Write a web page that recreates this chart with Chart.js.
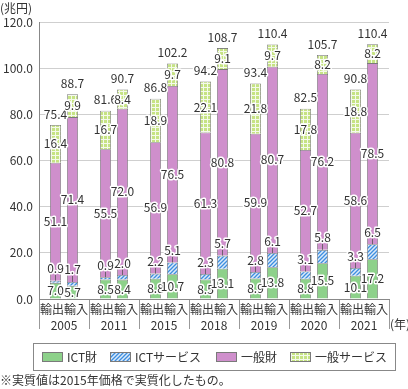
<!DOCTYPE html>
<html>
<head>
<meta charset="utf-8">
<script src="https://cdn.jsdelivr.net/npm/chart.js@4.4.1/dist/chart.umd.min.js"></script>
<style>
  html, body { margin: 0; padding: 0; background: #fff; }
  #wrap { position: relative; width: 408px; height: 389px; }
</style>
</head>
<body>
<div id="wrap"><canvas id="chart" width="408" height="389"></canvas></div>
<script>
// Data (兆円)
const years = ['2005', '2011', '2015', '2018', '2019', '2020', '2021'];
const seriesNames = ['ICT財', 'ICTサービス', '一般財', '一般サービス'];

const exportIctGoods = [7.0, 8.5, 8.8, 8.5, 8.9, 8.8, 10.1];
const exportIctServices = [0.9, 0.9, 2.2, 2.3, 2.8, 3.1, 3.3];
const exportGeneralGoods = [51.1, 55.5, 56.9, 61.3, 59.9, 52.7, 58.6];
const exportGeneralServices = [16.4, 16.7, 18.9, 22.1, 21.8, 17.8, 18.8];
const exportTotals = [75.4, 81.6, 86.8, 94.2, 93.4, 82.5, 90.8];

const importIctGoods = [5.7, 8.4, 10.7, 13.1, 13.8, 15.5, 17.2];
const importIctServices = [1.7, 2.0, 5.1, 5.7, 6.1, 5.8, 6.5];
const importGeneralGoods = [71.4, 72.0, 76.5, 80.8, 80.7, 76.2, 78.5];
const importGeneralServices = [9.9, 8.4, 9.7, 9.1, 9.7, 8.2, 8.2];
const importTotals = [88.7, 90.7, 102.2, 108.7, 110.4, 105.7, 110.4];

const yTicks = [0, 20, 40, 60, 80, 100, 120];

const FONT = '"Noto Sans CJK JP", "Noto Sans", sans-serif';

// fill patterns
function stripePattern() {
    const c = document.createElement('canvas');
    c.width = 4; c.height = 4;
    const g = c.getContext('2d');
    g.fillStyle = '#dcebfa';
    g.fillRect(0, 0, 4, 4);
    g.strokeStyle = '#3d8ee0';
    g.lineWidth = 1.3;
    g.beginPath();
    g.moveTo(-1, 5); g.lineTo(5, -1);
    g.moveTo(-1, 1); g.lineTo(1, -1);
    g.moveTo(3, 5); g.lineTo(5, 3);
    g.stroke();
    return g.createPattern(c, 'repeat');
}
function gridPattern() {
    const c = document.createElement('canvas');
    c.width = 4; c.height = 4;
    const g = c.getContext('2d');
    g.fillStyle = '#c6e384';
    g.fillRect(0, 0, 4, 4);
    g.fillStyle = '#f4faea';
    g.fillRect(3, 0, 1, 4);
    g.fillRect(0, 3, 4, 1);
    return g.createPattern(c, 'repeat');
}

const fills = ['#8dd18a', stripePattern(), '#cf8fcc', gridPattern()];

const exportSeries = [exportIctGoods, exportIctServices, exportGeneralGoods, exportGeneralServices];
const importSeries = [importIctGoods, importIctServices, importGeneralGoods, importGeneralServices];

const datasets = [];
seriesNames.forEach((name, i) => {
    datasets.push({ label: name, data: exportSeries[i], stack: 'ex', backgroundColor: fills[i],
        borderColor: '#7a7a7a', borderWidth: 0.8, seriesIndex: i, totals: exportTotals });
    datasets.push({ label: name, data: importSeries[i], stack: 'im', backgroundColor: fills[i],
        borderColor: '#7a7a7a', borderWidth: 0.8, seriesIndex: i, totals: importTotals });
});

function haloText(ctx, text, x, y) {
    ctx.lineJoin = 'round';
    ctx.strokeStyle = '#fff';
    ctx.lineWidth = 3;
    ctx.strokeText(text, x, y);
    ctx.fillStyle = '#333';
    ctx.fillText(text, x, y);
}

// value labels, legend box and notes
const extras = {
    id: 'extras',
    afterDatasetsDraw(chart) {
        const ctx = chart.ctx;
        ctx.save();
        ctx.font = '12px ' + FONT;
        ctx.textAlign = 'center';
        ctx.textBaseline = 'middle';
        chart.data.datasets.forEach((ds, di) => {
            const meta = chart.getDatasetMeta(di);
            meta.data.forEach((bar, k) => {
                const txt = ds.data[k].toFixed(1);
                const top = Math.min(bar.y, bar.base);
                const mid = (bar.y + bar.base) / 2;
                if (ds.seriesIndex === 1) {
                    ctx.strokeStyle = '#555';
                    ctx.lineWidth = 0.8;
                    ctx.beginPath();
                    ctx.moveTo(bar.x, top);
                    ctx.lineTo(bar.x, top - 6);
                    ctx.stroke();
                    haloText(ctx, txt, bar.x, top - 12);
                } else {
                    haloText(ctx, txt, bar.x, mid);
                }
                if (ds.seriesIndex === 3) {
                    haloText(ctx, ds.totals[k].toFixed(1), bar.x, top - 11);
                }
            });
        });
        ctx.restore();
    },
    afterDraw(chart) {
        const ctx = chart.ctx;
        ctx.save();
        ctx.font = '12px ' + FONT;
        ctx.fillStyle = '#333';
        ctx.textBaseline = 'middle';
        ctx.textAlign = 'left';
        ctx.fillText('(兆円)', 0, 8);
        ctx.fillText('(年)', 390, 324);
        ctx.fillText('※実質値は2015年価格で実質化したもの。', 0, 380);

        // legend
        ctx.strokeStyle = '#888';
        ctx.lineWidth = 1;
        ctx.strokeRect(33.5, 343.5, 362, 27);
        const itemX = [42, 110, 216, 290];
        seriesNames.forEach((name, i) => {
            const x = itemX[i];
            ctx.fillStyle = fills[i];
            ctx.fillRect(x, 352, 21, 10);
            ctx.strokeStyle = '#7a7a7a';
            ctx.strokeRect(x + 0.5, 352.5, 20, 9);
            ctx.fillStyle = '#333';
            ctx.fillText(name, x + 25, 357);
        });
        ctx.restore();
    }
};

new Chart(document.getElementById('chart'), {
    type: 'bar',
    data: { labels: years.map(y => ['輸出輸入', y]), datasets: datasets },
    options: {
        responsive: false,
        animation: false,
        layout: { padding: { left: 0, right: 19, top: 22, bottom: 54 } },
        datasets: { bar: { categoryPercentage: 0.68, barPercentage: 0.65 } },
        plugins: { legend: { display: false }, tooltip: { enabled: false } },
        scales: {
            x: {
                stacked: true,
                grid: { drawOnChartArea: false, tickLength: 30, color: '#999' },
                border: { color: '#888' },
                ticks: {
                    autoSkip: false,
                    padding: -28,
                    color: '#333',
                    font: { family: FONT, size: 12, lineHeight: 1.35 },
                    maxRotation: 0
                },
                afterFit(scale) { scale.height = 36; }
            },
            y: {
                stacked: true,
                min: 0,
                max: 120,
                afterBuildTicks(scale) { scale.ticks = yTicks.map(v => ({ value: v })); },
                grid: { color: '#cfcfcf', drawTicks: false },
                border: { color: '#888' },
                ticks: {
                    padding: 6,
                    color: '#333',
                    font: { family: FONT, size: 12 },
                    callback: v => v.toFixed(1)
                },
                afterFit(scale) { scale.width = 39; }
            }
        }
    },
    plugins: [extras]
});
</script>
</body>
</html>
